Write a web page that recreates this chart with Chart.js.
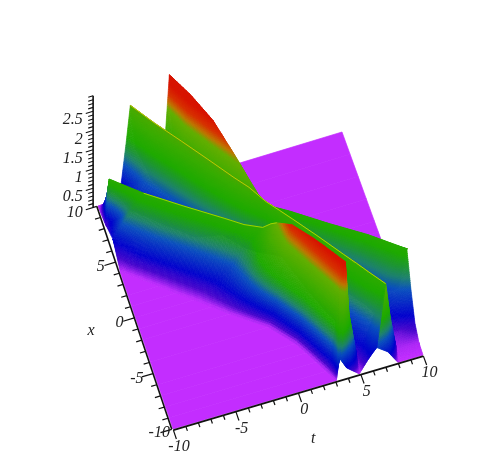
<!DOCTYPE html>
<html><head><meta charset="utf-8">
<style>html,body{margin:0;padding:0;background:#fff}canvas{display:block;filter:blur(0.5px)}</style>
<script src="https://cdn.jsdelivr.net/npm/chart.js@4"></script></head>
<body><canvas id="c" width="498" height="463"></canvas>
<script>
// Surface: one row of knots per x value (knots follow the three ridges).
const xRows = [10,8,6,4,2,1,0,-1,-2,-4,-6,-7,-8,-9,-10];
const tKnots = [
[-10,-10,-10,-10,-10,-9.3,-9.1,-8.8,-8.1,-7.7,-7.35,-6.9,-5.5,-4.9,-4.45,-4.15,-3.9,-2.8,10],
[-10,-10,-10,-10,-10,-9.7,-9.3,-8,-6.8,-6.3,-6,-5.5,-4.4,-4,-3.45,-3.05,-2.7,-1.4,10],
[-10,-10,-10,-9.5,-8.5,-7.5,-7,-5.9,-5.2,-4.75,-4.4,-4,-3.1,-2.7,-2.2,-1.85,-1.55,-0.4,10],
[-10,-9.8,-8.6,-7.3,-6.1,-4.9,-4.4,-3.9,-3.6,-3.25,-2.9,-2.5,-1.9,-1.5,-0.95,-0.65,-0.3,0.9,10],
[-10,-7.5,-6.2,-4.85,-3.5,-2.2,-1.95,-1.8,-1.7,-1.55,-1.4,-1,-0.4,0,0.3,0.55,0.9,2,10],
[-10,-6.4,-5,-3.65,-2.25,-0.9,-0.8,-0.7,-0.65,-0.58,-0.5,-0.1,0.4,0.7,1,1.2,1.6,2.8,10],
[-10,-5.2,-3.8,-2.45,-1.1,0.3,0.38,0.42,0.45,0.5,0.55,1,1.6,1.9,2.2,2.5,3,4.4,10],
[-10,-4.1,-2.9,-1.75,-0.55,0.65,0.8,0.95,1.05,1.2,1.35,1.8,2.5,2.9,3.3,3.75,4.3,5.8,10],
[-10,-3,-2.05,-1.1,-0.15,0.8,1.1,1.4,1.6,1.85,2.1,2.6,3.5,4,4.5,5,5.6,7.2,10],
[-10,-0.5,0,0.45,0.95,1.4,1.9,2.4,2.8,3.15,3.5,4,5.2,6,6.8,7.5,8.1,9.3,10],
[-10,1.05,1.41,1.77,2.12,2.48,2.9,3.5,3.9,4.4,4.9,5.5,6.6,7.3,8.5,10,10,10,10],
[-10,1.6,1.95,2.31,2.66,3.02,3.4,4.2,4.6,5.1,5.65,6.3,7.4,8,9,10,10,10,10],
[-10,2.1,2.46,2.83,3.2,3.56,3.95,4.6,5.2,5.8,6.4,7.2,8.3,8.8,9.4,10,10,10,10],
[-10,2.6,2.98,3.35,3.72,4.1,4.4,5,5.7,6.5,7.33,7.7,8.2,8.6,9.3,10,10,10,10],
[-10,3.07,3.15,3.22,3.3,3.4,3.9,4.9,5.6,6,6.3,7.2,8,8.5,9,9.5,10,10,10]
];
const zKnots = [
[0,0,0,0,0,0,0.3,0.4,0.4,1.4,2.36,1.2,0.2,0.5,1.45,2.85,1.3,0,0],
[0.1,0.1,0.1,0.1,0.1,1.25,0.95,0.3,0.9,1.4,2.35,1.2,0.2,0.7,1.9,2.8,1.3,0,0],
[0.3,0.3,0.3,0.52,0.9,1.25,0.95,0.3,0.9,1.4,2.3,1.2,0.2,0.7,1.75,2.6,1.3,0,0],
[0,0,0.19,0.52,0.9,1.25,0.95,0.35,0.9,1.4,2.27,1.2,0.25,0.7,1.5,2.13,1.1,0,0],
[0,0,0.19,0.52,0.9,1.25,1,0.8,1,1.5,2.23,1.2,0.3,0.7,1.2,1.61,0.9,0,0],
[0,0,0.19,0.52,0.9,1.25,1.2,1,1.2,1.6,2.18,1.2,0.4,0.7,1.15,1.53,0.8,0,0],
[0,0,0.2,0.52,0.92,1.35,1.3,1.2,1.3,1.6,2,1.2,0.5,0.75,1.15,1.56,0.8,0,0],
[0,0,0.22,0.6,1.05,1.7,1.4,1.1,1.25,1.55,1.98,1.2,0.55,0.75,1.1,1.57,0.8,0,0],
[0,0,0.25,0.7,1.3,2,1.4,1,1.1,1.5,1.97,1.2,0.5,0.75,1.1,1.58,0.8,0,0],
[0,0,0.37,1.04,1.85,2.47,1.5,0.8,1,1.5,1.97,1.2,0.5,0.75,1.1,1.63,0.8,0,0],
[0,0,0.4,1.1,2.05,2.6,1.5,0.6,0.9,1.4,1.95,1.2,0.5,0.6,1,1.6,1.6,1.6,1.6],
[0,0,0.4,1.1,2.1,2.64,1.5,0.5,0.8,1.35,1.93,1.1,0.4,0.45,0.65,0.85,0.85,0.85,0.85],
[0,0,0.4,1.12,2.13,2.67,1.5,0.35,0.7,1.3,1.9,0.9,0.1,0.12,0.18,0.25,0.25,0.25,0.25],
[0,0,0.4,1.13,2.16,2.7,1.3,0.2,0.55,1.2,1.82,0.9,0.03,0.03,0.03,0.03,0.03,0.03,0.03],
[0,0,0.2,0.38,0.5,0.52,0.25,0,0.3,0.45,0.55,0.35,0,0,0,0,0,0,0]
];
const colorHeights = [0,0.12,0.28,0.62,0.78,0.93,1.1,2,2.15,2.35,2.6];
const colorStops = [[195,45,255],[70,5,205],[0,0,205],[10,80,190],[30,130,110],[30,150,50],[30,170,0],[100,175,0],[190,120,0],[215,50,0],[215,20,0]];
// Colour weight of the second ridge's near face and of the third ridge's near face past the crossing.
const ridgeBFaceShade = 0.7, ridgeCFaceShade = 0.75;
const zTicks = [0.1,0.2,0.3,0.4,0.5,0.6,0.7,0.8,0.9,1,1.1,1.2,1.3,1.4,1.5,1.6,1.7,1.8,1.9,2,2.1,2.2,2.3,2.4,2.5,2.6,2.7,2.8,2.9];
const axisTicks = [-10,-9,-8,-7,-6,-5,-4,-3,-2,-1,0,1,2,3,4,5,6,7,8,9,10];
const zLabels = ['0.5','1','1.5','2','2.5'];
const xLabels = ['10','5','0','-5','-10'];
const tLabels = ['-10','-5','0','5','10'];
const xLabelT = [-11.9,-11.3,-11.3,-11.4,-11.1];

// View of the box: bilinear ground plane plus a vertical height scale.
const C00=[173,429],C10=[423,355],C01=[98,206],C11=[342,132],ZPX=38.5;
function proj(t,x,z){
  const u=(t+10)/20,v=(x+10)/20;
  const f=i=>C00[i]*(1-u)*(1-v)+C10[i]*u*(1-v)+C01[i]*(1-u)*v+C11[i]*u*v;
  return {x:f(0),y:f(1)-ZPX*(z||0)};
}
function zColor(z){
  let i=0; while(i<colorHeights.length-2 && z>colorHeights[i+1]) i++;
  const k=Math.min(1,Math.max(0,(z-colorHeights[i])/(colorHeights[i+1]-colorHeights[i])));
  const c=colorStops[i].map((v,j)=>Math.round(v+(colorStops[i+1][j]-v)*k));
  return `rgb(${c[0]},${c[1]},${c[2]})`;
}
// The surface mesh is one dataset: each point carries its cell; depth-sorted back to front.
const flat=[],cells=[];
for(let r=0;r<xRows.length-1;r++){
  for(let c=0;c<tKnots[0].length-1;c++){
    const T=[tKnots[r][c],tKnots[r][c+1],tKnots[r+1][c+1],tKnots[r+1][c]];
    const Z=[zKnots[r][c],zKnots[r][c+1],zKnots[r+1][c+1],zKnots[r+1][c]];
    const X=[xRows[r],xRows[r],xRows[r+1],xRows[r+1]];
    if(T[0]===T[1]&&T[3]===T[2]) continue;
    const P=T.map((t,i)=>proj(t,X[i],Z[i]));
    if(Math.max(...Z)<0.01){flat.push({x:P[0].x,y:P[0].y,quad:P,col:zColor(0),d:0});continue;}
    const shade=(c>=7&&c<=9)?ridgeBFaceShade:((c>=12&&c<=15&&r>=4)?ridgeCFaceShade:1);
    const len=(a,b)=>Math.hypot(a.x-b.x,a.y-b.y);
    const nT=Math.min(40,Math.max(1,Math.ceil(Math.max(len(P[0],P[1]),len(P[3],P[2]))/2.2)));
    const nX=Math.min(40,Math.max(1,Math.ceil(Math.max(len(P[0],P[3]),len(P[1],P[2]))/2.2)));
    const at=(a,b)=>{const m=k=>{const A=k[0]+(k[1]-k[0])*a,B=k[3]+(k[2]-k[3])*a;return A+(B-A)*b;};return [m(T),m(X),m(Z)];};
    for(let i=0;i<nT;i++)for(let j=0;j<nX;j++){
      const q=[at(i/nT,j/nX),at((i+1)/nT,j/nX),at((i+1)/nT,(j+1)/nX),at(i/nT,(j+1)/nX)];
      const mz=(q[0][2]+q[1][2]+q[2][2]+q[3][2])/4;
      const mt=(q[0][0]+q[1][0]+q[2][0]+q[3][0])/4, mx=(q[0][1]+q[1][1]+q[2][1]+q[3][1])/4;
      const qp=q.map(p=>proj(p[0],p[1],p[2]));
      cells.push({x:qp[0].x,y:qp[0].y,quad:qp,col:zColor(mz*shade),d:proj(mt,mx,0).y});
    }
  }
}
cells.sort((a,b)=>a.d-b.d);
const surface=flat.concat(cells);
const line=(pts,w,col)=>({type:'line',data:pts,fill:false,borderColor:col,borderWidth:w,pointRadius:0,tension:0,clip:false});
const ds=[];
// axes and ticks (first listed = drawn on top)
const K='#111';
ds.push(line([proj(-10.1,10,0),proj(-10.1,-10,0)],1.6,K));
ds.push(line([proj(-10,-10.1,0),proj(10,-10.1,0)],1.6,K));
ds.push(line([proj(-10.4,10,0),proj(-10.4,10,2.9)],1.6,K));
axisTicks.forEach(v=>{
  const big=v%5===0;
  ds.push(line([proj(-10.1,v,0),proj(big?-11:-10.55,v,0)],1.2,K));
  ds.push(line([proj(v,-10.1,0),proj(v,big?-10.9:-10.5,0)],1.2,K));
});
zTicks.forEach(v=>{
  const big=Math.abs(v*2-Math.round(v*2))<1e-6;
  ds.push(line([proj(-10.4,10,v),proj(big?-11.0:-10.8,10,v)],1.1,K));
});
// ridge highlights
ds.push(line(xRows.map((x,r)=>proj(tKnots[r][5],x,zKnots[r][5])).slice(2,9),0.9,'rgb(170,215,0)'));
ds.push(line(xRows.map((x,r)=>proj(tKnots[r][10],x,zKnots[r][10])).slice(0,14),0.9,'rgb(190,215,0)'));
ds.push({type:'line',label:'surface',data:surface,showLine:false,pointRadius:0,clip:false});
const surfacePlugin={id:'surface',beforeDatasetsDraw(ch){
  const g=ch.ctx,sx=ch.scales.x,sy=ch.scales.y;
  g.save();g.lineWidth=0.7;g.lineJoin='round';
  surface.forEach(o=>{
    g.beginPath();
    o.quad.forEach((p,i)=>{const X=sx.getPixelForValue(p.x),Y=sy.getPixelForValue(p.y);i?g.lineTo(X,Y):g.moveTo(X,Y);});
    g.closePath();g.fillStyle=o.col;g.strokeStyle=o.col;g.fill();g.stroke();
  });
  g.restore();
}};
const labelPlugin={id:'labels',afterDraw(ch){
  const g=ch.ctx,sx=ch.scales.x,sy=ch.scales.y;
  const put=(s,p,al)=>{g.textAlign=al||'center';g.fillText(s,sx.getPixelForValue(p.x),sy.getPixelForValue(p.y));};
  g.save();g.fillStyle='#222';g.textBaseline='middle';g.font='italic 16px "Liberation Serif"';
  zLabels.forEach((s,i)=>put(s,proj(-11.25,10,(i+1)*0.5-0.15),'right'));
  xLabels.forEach((s,i)=>put(s,proj(xLabelT[i],10-5*i,0)));
  tLabels.forEach((s,i)=>put(s,proj(-10+5*i,-11.6,0)));
  put('x',proj(-13.6,0,0));put('t',proj(-0.1,-14.2,0));
  g.restore();
}};
new Chart(document.getElementById('c'),{type:'line',data:{datasets:ds},plugins:[surfacePlugin,labelPlugin],options:{
  responsive:false,animation:false,events:[],normalized:false,
  layout:{padding:0},
  plugins:{legend:{display:false},tooltip:{enabled:false}},
  scales:{x:{type:'linear',min:0,max:498,display:false},y:{type:'linear',min:0,max:463,reverse:true,display:false}}
}});
</script></body></html>
